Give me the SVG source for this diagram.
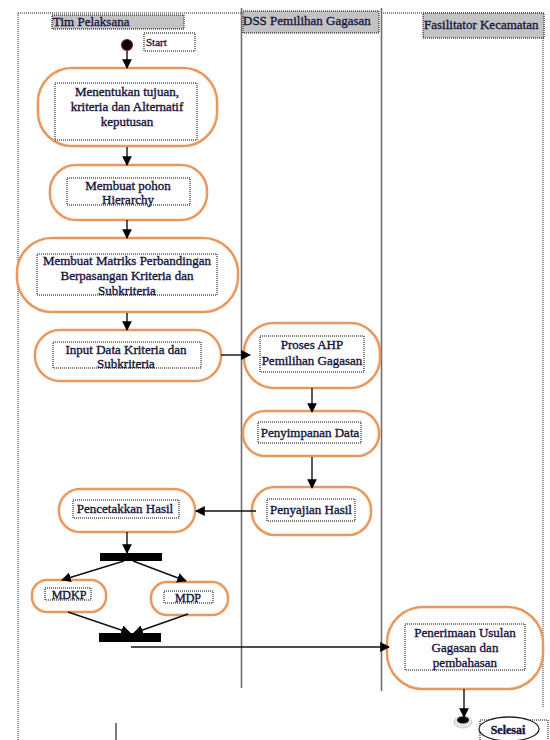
<svg xmlns="http://www.w3.org/2000/svg" width="550" height="740" viewBox="0 0 550 740">
  <defs>
    <style>
      .txt { font-family: "Liberation Serif", "Times New Roman", serif; font-size: 13px; fill: #14143c; stroke: #14143c; stroke-width: 0.35; text-anchor: middle; }
      .hdr { font-family: "Liberation Serif", "Times New Roman", serif; font-size: 13px; fill: #14143c; stroke: #14143c; stroke-width: 0.3; }
      .pill { fill: #ffffff; stroke: #e6985f; stroke-width: 2.6; }
      .pill-in { fill: none; stroke: #fde6d2; stroke-width: 0.8; }
      .dotbox { fill: none; stroke: #000; stroke-width: 1; stroke-dasharray: 1 1; }
      .hbox { fill: #c3c3c3; stroke: #000; stroke-width: 1; stroke-dasharray: 1 1; }
      .frame { fill: none; stroke: #222; stroke-width: 1; stroke-dasharray: 1 1; }
      .lane { stroke: #6e6e6e; stroke-width: 1.6; }
      .edge { fill: none; stroke: #111; stroke-width: 1.4; }
      .bar { fill: #000; }
    </style>
    <marker id="arr" viewBox="0 0 10 10" refX="9" refY="5" markerWidth="7" markerHeight="7" orient="auto">
      <path d="M0,0 L10,5 L0,10 z" fill="#000"/>
    </marker>
  </defs>
  <rect width="550" height="740" fill="#fff"/>

  <!-- swimlane frame -->
  <g id="lanes">
    <path class="frame" d="M18,13 H242 M381,13 H543 M18,13 V740 M543,38 V707"/>
    <line class="lane" x1="241.5" y1="8" x2="241.5" y2="688"/>
    <line class="lane" x1="381.5" y1="8" x2="381.5" y2="691"/>
    <rect class="hbox" x="52" y="15" width="132" height="14"/>
    <text class="hdr" x="53" y="26">Tim Pelaksana</text>
    <rect class="hbox" x="243" y="11" width="136" height="22"/>
    <text class="hdr" x="243" y="25">DSS Pemilihan  Gagasan</text>
    <rect class="hbox" x="423" y="13" width="121" height="25"/>
    <text class="hdr" x="424" y="29">Fasilitator Kecamatan</text>
  </g>

  <!-- start -->
  <g id="start">
    <circle cx="127" cy="45" r="5.5" fill="#000" stroke="#8b1a3a" stroke-width="1.2"/>
    <rect class="dotbox" x="144" y="33" width="51" height="18"/>
    <text class="hdr" x="146" y="46" style="font-size:11px">Start</text>
  </g>

  <g id="n1">
    <rect class="pill" x="38" y="68" width="179" height="78" rx="34"/>
    <rect class="pill-in" x="39.5" y="69.5" width="176" height="75" rx="32.5"/>
    <rect class="dotbox" x="55" y="83" width="142" height="57"/>
    <text class="txt" x="127" y="96">Menentukan tujuan,</text>
    <text class="txt" x="127" y="111">kriteria dan Alternatif</text>
    <text class="txt" x="127" y="126">keputusan</text>
  </g>

  <g id="n2">
    <rect class="pill" x="50" y="165" width="157" height="55" rx="26"/>
    <rect class="pill-in" x="51.5" y="166.5" width="154" height="52" rx="24.5"/>
    <rect class="dotbox" x="67" y="178" width="123" height="27"/>
    <text class="txt" x="128" y="190">Membuat pohon</text>
    <text class="txt" x="128" y="204">Hierarchy</text>
  </g>

  <g id="n3">
    <rect class="pill" x="17" y="238" width="221" height="74" rx="35"/>
    <rect class="pill-in" x="18.5" y="239.5" width="218" height="71" rx="33.5"/>
    <rect class="dotbox" x="37" y="254" width="180" height="41"/>
    <text class="txt" x="127" y="265">Membuat Matriks Perbandingan</text>
    <text class="txt" x="127" y="280">Berpasangan Kriteria dan</text>
    <text class="txt" x="127" y="295">Subkriteria</text>
  </g>

  <g id="n4">
    <rect class="pill" x="35" y="330" width="186" height="51" rx="25"/>
    <rect class="pill-in" x="36.5" y="331.5" width="183" height="48" rx="23.5"/>
    <rect class="dotbox" x="53" y="342" width="148" height="26"/>
    <text class="txt" x="126" y="354">Input Data Kriteria dan</text>
    <text class="txt" x="126" y="368">Subkriteria</text>
  </g>

  <g id="n5">
    <rect class="pill" x="244" y="323" width="136" height="65" rx="30"/>
    <rect class="pill-in" x="245.5" y="324.5" width="133" height="62" rx="28.5"/>
    <rect class="dotbox" x="260" y="336" width="104" height="36"/>
    <text class="txt" x="312" y="349">Proses AHP</text>
    <text class="txt" x="312" y="365">Pemilihan Gagasan</text>
  </g>

  <g id="n6">
    <rect class="pill" x="243" y="411" width="136" height="45" rx="22"/>
    <rect class="pill-in" x="244.5" y="412.5" width="133" height="42" rx="20.5"/>
    <rect class="dotbox" x="258" y="422" width="103" height="21"/>
    <text class="txt" x="310" y="437">Penyimpanan Data</text>
  </g>

  <g id="n7">
    <rect class="pill" x="252" y="487" width="119" height="48" rx="23"/>
    <rect class="pill-in" x="253.5" y="488.5" width="116" height="45" rx="21.5"/>
    <rect class="dotbox" x="267" y="499" width="88" height="22"/>
    <text class="txt" x="311" y="514">Penyajian Hasil</text>
  </g>

  <g id="n8">
    <rect class="pill" x="59" y="489" width="136" height="43" rx="21"/>
    <rect class="pill-in" x="60.5" y="490.5" width="133" height="40" rx="19.5"/>
    <rect class="dotbox" x="73" y="500" width="106" height="18"/>
    <text class="txt" x="125" y="513">Pencetakkan Hasil</text>
  </g>

  <g id="fork">
    <rect class="bar" x="100" y="553" width="62" height="8"/>
  </g>

  <g id="n9">
    <rect class="pill" x="32" y="580" width="74" height="32" rx="15"/>
    <rect class="pill-in" x="33.5" y="581.5" width="71" height="29" rx="13.5"/>
    <rect class="dotbox" x="45" y="588" width="46" height="12"/>
    <text class="txt" x="69" y="599" style="font-size:12px">MDKP</text>
  </g>

  <g id="n10">
    <rect class="pill" x="151" y="582" width="77" height="33" rx="16"/>
    <rect class="pill-in" x="152.5" y="583.5" width="74" height="30" rx="14.5"/>
    <rect class="dotbox" x="164" y="591" width="49" height="12"/>
    <text class="txt" x="188" y="602" style="font-size:12px">MDP</text>
  </g>

  <g id="join">
    <rect class="bar" x="99" y="633" width="62" height="9"/>
  </g>

  <g id="n11">
    <rect class="pill" x="387" y="607" width="156" height="82" rx="36"/>
    <rect class="pill-in" x="388.5" y="608.5" width="153" height="79" rx="34.5"/>
    <rect class="dotbox" x="405" y="624" width="120" height="46"/>
    <text class="txt" x="465" y="637">Penerimaan Usulan</text>
    <text class="txt" x="465" y="652">Gagasan dan</text>
    <text class="txt" x="465" y="667">pembahasan</text>
  </g>

  <!-- end -->
  <g id="end">
    <ellipse cx="463" cy="722" rx="9" ry="6" fill="#e6e6e6" stroke="#c8c8c8" stroke-width="1"/>
    <ellipse cx="463" cy="720" rx="6" ry="3.5" fill="#000"/>
    <rect class="dotbox" x="480" y="720" width="68" height="22"/>
    <ellipse cx="509" cy="729" rx="30" ry="12" fill="#fff" stroke="#222" stroke-width="1.3"/>
    <text class="txt" x="508" y="734" style="font-weight:bold;font-size:12px">Selesai</text>
  </g>

  <line x1="116" y1="723" x2="116" y2="740" stroke="#222" stroke-width="1.2"/>

  <g id="connectors">
    <line class="edge" x1="127" y1="51" x2="127" y2="68" marker-end="url(#arr)"/>
    <line class="edge" x1="127" y1="147" x2="127" y2="165" marker-end="url(#arr)"/>
    <line class="edge" x1="127" y1="220" x2="127" y2="238" marker-end="url(#arr)"/>
    <line class="edge" x1="127" y1="313" x2="127" y2="330" marker-end="url(#arr)"/>
    <line class="edge" x1="221" y1="355" x2="250" y2="355" marker-end="url(#arr)"/>
    <line class="edge" x1="312" y1="388" x2="312" y2="412" marker-end="url(#arr)"/>
    <line class="edge" x1="312" y1="457" x2="312" y2="488" marker-end="url(#arr)"/>
    <line class="edge" x1="256" y1="511" x2="196" y2="511" marker-end="url(#arr)"/>
    <line class="edge" x1="127" y1="532" x2="127" y2="553" marker-end="url(#arr)"/>
    <line class="edge" x1="124" y1="561" x2="62" y2="580" marker-end="url(#arr)"/>
    <line class="edge" x1="133" y1="561" x2="186" y2="581" marker-end="url(#arr)"/>
    <line class="edge" x1="68" y1="612" x2="130" y2="633" marker-end="url(#arr)"/>
    <line class="edge" x1="188" y1="614" x2="134" y2="633" marker-end="url(#arr)"/>
    <line class="edge" x1="131" y1="647" x2="389" y2="647" marker-end="url(#arr)"/>
    <line class="edge" x1="464" y1="689" x2="464" y2="717" marker-end="url(#arr)"/>
  </g>
</svg>
